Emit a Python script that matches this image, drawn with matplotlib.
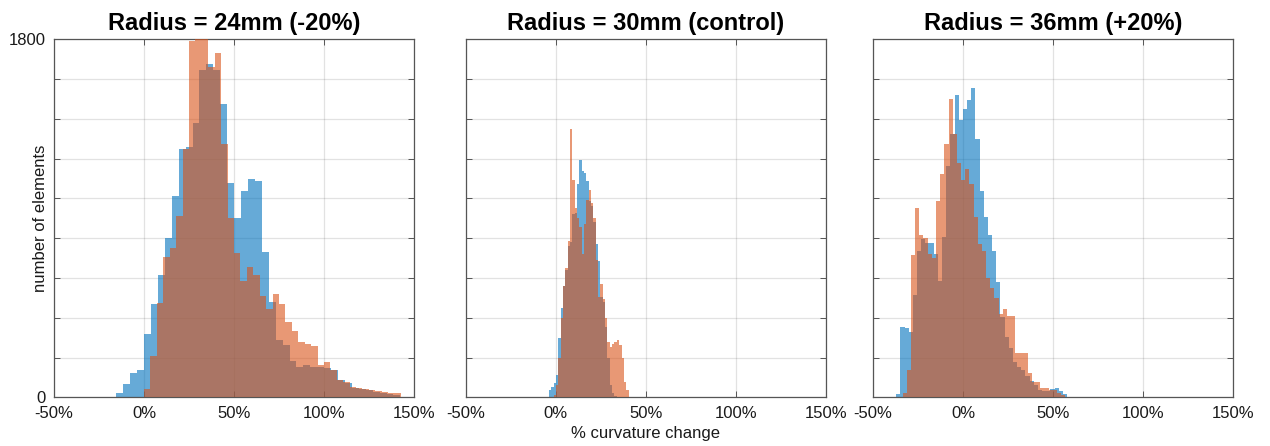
import numpy as np
import matplotlib
matplotlib.use("Agg")
import matplotlib.pyplot as plt

plt.rcParams['font.family'] = ['Liberation Sans', 'DejaVu Sans']

titles = ['Radius = 24mm (-20%)', 'Radius = 30mm (control)', 'Radius = 36mm (+20%)']
x_ticks = [-50, 0, 50, 100, 150]
x_tick_labels = ['-50%', '0%', '50%', '100%', '150%']
y_ticks = [0, 200, 400, 600, 800, 1000, 1200, 1400, 1600, 1800]
y_tick_labels = ['0', '', '', '', '', '', '', '', '', '1800']

# histogram bins: (first edge in %, bin width in %), then counts per bin
r24_blue_bins = (-15.4, 3.85)
r24_blue = [20, 65, 120, 138, 317, 467, 617, 800, 1013, 1250, 1260, 1380,
            1645, 1675, 1645, 1475, 1078, 900, 1037, 1100, 1090, 733, 478, 290,
            265, 182, 150, 162, 153, 150, 145, 137, 87, 70, 45, 40, 35, 28, 22,
            18, 12]
r24_orange_bins = (0.0, 3.57)
r24_orange = [42, 208, 472, 705, 750, 912, 1247, 1790, 1810, 1810, 1660, 1733,
              1275, 900, 725, 587, 655, 617, 508, 445, 520, 470, 378, 332, 278,
              270, 258, 162, 175, 137, 87, 78, 50, 45, 40, 37, 30, 28, 20, 23]

r30_blue_bins = (-3.74, 1.3)
r30_blue = [37, 50, 70, 110, 300, 450, 560, 640, 760, 780, 920, 928, 1070,
            1195, 1137, 1128, 1087, 987, 960, 880, 770, 687, 503, 480, 353, 200,
            60, 20, 5, 0, 0, 0, 0, 0]
r30_orange_bins = (-3.74, 1.3)
r30_orange = [0, 0, 10, 60, 200, 400, 560, 650, 787, 1350, 1095, 953, 900,
              855, 720, 870, 990, 1040, 978, 903, 690, 503, 570, 495, 400, 280,
              255, 270, 280, 290, 265, 200, 78, 37]

r36_blue_bins = (-37.13, 2.315)
r36_blue = [18, 355, 350, 330, 513, 735, 797, 775, 777, 718, 583, 805, 1163,
            1322, 1522, 1392, 1452, 1497, 1555, 1297, 1038, 908, 817, 738, 580,
            405, 305, 250, 180, 150, 138, 105, 80, 63, 35, 30, 30, 40, 47, 30,
            15]
r36_orange_bins = (-33.52, 2.315)
r36_orange = [22, 138, 713, 950, 817, 800, 718, 700, 988, 1125, 1272, 1502,
              1322, 1180, 1093, 1150, 1072, 905, 772, 738, 600, 552, 497, 420,
              442, 408, 408, 222, 222, 222, 122, 75, 75, 47, 47, 38, 38, 20, 10]

panels = [
    (r24_blue_bins, r24_blue, r24_orange_bins, r24_orange),
    (r30_blue_bins, r30_blue, r30_orange_bins, r30_orange),
    (r36_blue_bins, r36_blue, r36_orange_bins, r36_orange),
]

blue = (0.0, 0.447, 0.741)
orange = (0.85, 0.325, 0.098)
text_col = '#1a1a1a'
axis_col = '#555555'


def edges_for(bins, counts):
    start, width = bins
    return start + width * np.arange(len(counts) + 1)


fig = plt.figure(figsize=(12.7, 4.46), dpi=100)
lefts = [54 / 1270, 465.7 / 1270, 873 / 1270]
w, h, b = 360 / 1270, 358 / 446, 48.7 / 446

for i, (bb, bc, ob, oc) in enumerate(panels):
    ax = fig.add_axes([lefts[i], b, w, h])
    ax.stairs(bc, edges_for(bb, bc), fill=True, color=blue, alpha=0.6,
              linewidth=0, zorder=2)
    ax.stairs(oc, edges_for(ob, oc), fill=True, color=orange, alpha=0.6,
              linewidth=0, zorder=3)

    ax.set_xlim(-50, 150)
    ax.set_ylim(0, 1800)
    ax.set_xticks(x_ticks)
    ax.set_xticklabels(x_tick_labels)
    ax.set_yticks(y_ticks)
    if i == 0:
        ax.set_yticklabels(y_tick_labels)
        ax.set_ylabel('number of elements', fontsize=12, color=text_col,
                      labelpad=-28)
    else:
        ax.set_yticklabels([])
    if i == 1:
        ax.set_xlabel('% curvature change', fontsize=12, color=text_col,
                      labelpad=4)

    ax.grid(True, color='#262626', alpha=0.13, linewidth=0.9, zorder=0)
    ax.set_axisbelow(True)
    ax.tick_params(direction='in', top=True, right=True, length=4,
                   width=0.7, color=axis_col, labelsize=12,
                   labelcolor=text_col, pad=6)
    for s in ax.spines.values():
        s.set_color(axis_col)
        s.set_linewidth(0.9)
    ax.set_title(titles[i], fontsize=17, fontweight='bold', color='black',
                 pad=7)

fig.savefig('out.png', dpi=100)
